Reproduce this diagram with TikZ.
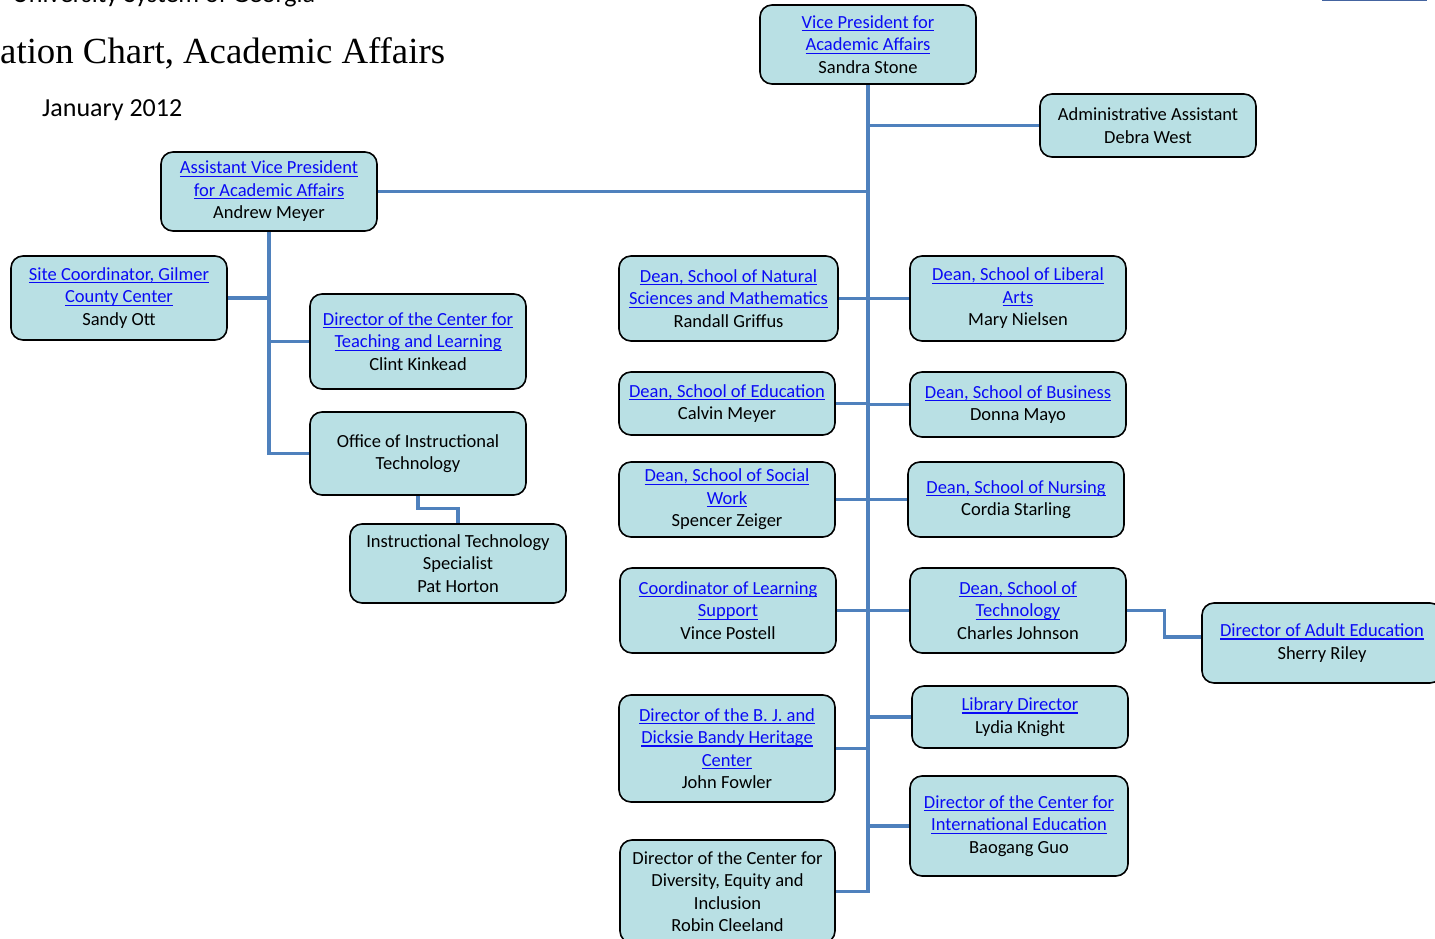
\documentclass[tikz,border=0pt]{standalone}
\usepackage{fontspec}
\setmainfont{Carlito}
\newfontfamily\titlefont{Liberation Serif}
\definecolor{boxfill}{RGB}{185,224,228}
\definecolor{connblue}{RGB}{79,129,189}
\definecolor{linkblue}{RGB}{10,10,245}
\newsavebox{\lnkbox}
\newcommand{\lnk}[1]{\textcolor{linkblue}{\sbox{\lnkbox}{#1}\rlap{\rule[-3pt]{\wd\lnkbox}{1.3pt}}\usebox{\lnkbox}}}
\begin{document}
\begin{tikzpicture}[x=1pt, y=-1pt,
    orgbox/.style={draw=black, line width=1.6pt, fill=boxfill, rounded corners=12pt,
      align=center, inner sep=2pt, font=\fontsize{18.5}{22.5}\selectfont},
    conn/.style={connblue, line width=3.2pt}]
  \clip (0,0) rectangle (1435,939);
  % heading
  \node[anchor=base west, inner sep=0, font=\fontsize{26}{30}\selectfont] (system) at (12,3) {University System of Georgia};
  \node[anchor=base west, inner sep=0, font=\titlefont\fontsize{36.8}{40}\selectfont] (title) at (0,64) {ation Chart, Academic Affairs};
  \node[anchor=base west, inner sep=0, font=\fontsize{26}{30}\selectfont] (date) at (42,117) {January 2012};
  \draw[color={rgb,255:red,68;green,100;blue,160}, line width=2pt] (1322,0.5) -- (1427,0.5);
  % boxes
  \node[orgbox, minimum width=216, minimum height=79] (vp) at (868,44.5) {\lnk{Vice President for}\\\lnk{Academic Affairs}\\Sandra Stone};
  \node[orgbox, minimum width=216, minimum height=63] (admin) at (1148,125.5) {Administrative Assistant\\Debra West};
  \node[orgbox, minimum width=216, minimum height=79] (avp) at (269,191.5) {\lnk{Assistant Vice President}\\\lnk{for Academic Affairs}\\Andrew Meyer};
  \node[orgbox, minimum width=216, minimum height=84] (site) at (119,298) {\lnk{Site Coordinator, Gilmer}\\\lnk{County Center}\\Sandy Ott};
  \node[orgbox, minimum width=216, minimum height=95] (teach) at (418,341.5) {\lnk{Director of the Center for}\\\lnk{Teaching and Learning}\\Clint Kinkead};
  \node[orgbox, minimum width=216, minimum height=83] (office) at (418,453.5) {Office of Instructional\\Technology};
  \node[orgbox, minimum width=216, minimum height=79] (spec) at (458,563.5) {Instructional Technology\\Specialist\\Pat Horton};
  \node[orgbox, minimum width=219, minimum height=85] (natsci) at (728.5,298.5) {\lnk{Dean, School of Natural}\\\lnk{Sciences and Mathematics}\\Randall Griffus};
  \node[orgbox, minimum width=216, minimum height=85] (libarts) at (1018,298.5) {\lnk{Dean, School of Liberal}\\\lnk{Arts}\\Mary Nielsen};
  \node[orgbox, minimum width=216, minimum height=63] (edu) at (727,403.5) {\lnk{Dean, School of Education}\\Calvin Meyer};
  \node[orgbox, minimum width=216, minimum height=65] (bus) at (1018,404.5) {\lnk{Dean, School of Business}\\Donna Mayo};
  \node[orgbox, minimum width=216, minimum height=75] (social) at (727,499.5) {\lnk{Dean, School of Social}\\\lnk{Work}\\Spencer Zeiger};
  \node[orgbox, minimum width=216, minimum height=75] (nurs) at (1016,499.5) {\lnk{Dean, School of Nursing}\\Cordia Starling};
  \node[orgbox, minimum width=216, minimum height=85] (learn) at (728,610.5) {\lnk{Coordinator of Learning}\\\lnk{Support}\\Vince Postell};
  \node[orgbox, minimum width=216, minimum height=85] (tech) at (1018,610.5) {\lnk{Dean, School of}\\\lnk{Technology}\\Charles Johnson};
  \node[orgbox, minimum width=240, minimum height=80] (adult) at (1322,643) {\lnk{Director of Adult Education}\\Sherry Riley};
  \node[orgbox, minimum width=216, minimum height=107] (bj) at (727,748.5) {\lnk{Director of the B. J. and}\\\lnk{Dicksie Bandy Heritage}\\\lnk{Center}\\John Fowler};
  \node[orgbox, minimum width=216, minimum height=62] (lib) at (1020,717) {\lnk{Library Director}\\Lydia Knight};
  \node[orgbox, minimum width=218, minimum height=100] (intl) at (1019,826) {\lnk{Director of the Center for}\\\lnk{International Education}\\Baogang Guo};
  \node[orgbox, minimum width=215, minimum height=103] (div) at (727.5,891.5) {Director of the Center for\\Diversity, Equity and\\Inclusion\\Robin Cleeland};
  % connectors
  \draw[conn] (vp.south) |- (div.east);
  \draw[conn] (admin.west) -- (admin.west -| vp.south);
  \draw[conn] (avp.east) -- (avp.east -| vp.south);
  \foreach \N in {natsci,edu,social,learn,bj} {
    \draw[conn] (\N.east) -- (\N.east -| vp.south);
  }
  \foreach \N in {libarts,bus,nurs,tech,lib,intl} {
    \draw[conn] (\N.west) -- (\N.west -| vp.south);
  }
  \draw[conn] (tech.east) -- ++(38,0) |- ([yshift=6pt]adult.west);
  \draw[conn] (avp.south) |- (office.west);
  \draw[conn] (site.east) -- (site.east -| avp.south);
  \draw[conn] (teach.west) -- (teach.west -| avp.south);
  \draw[conn] (office.south) -- ++(0,13) -| (spec.north);
\end{tikzpicture}
\end{document}
